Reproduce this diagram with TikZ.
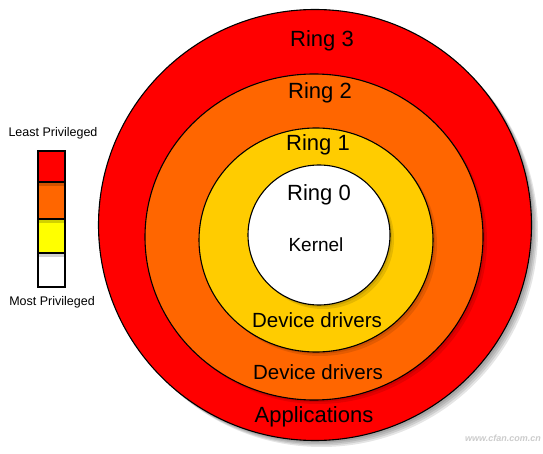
\documentclass[tikz,border=0pt]{standalone}
\usepackage{fontspec}
\setmainfont{Liberation Sans}
\definecolor{rred}{HTML}{FF0000}
\definecolor{rorange}{HTML}{FF6600}
\definecolor{rgold}{HTML}{FFCC00}
\definecolor{ryellow}{HTML}{FFFF00}
\tikzset{
  ringline/.style={draw=black, line width=1.1pt},
  ringshadow/.style={fill=black, opacity=0.10},
  big/.style={font=\fontsize{22}{25}\selectfont, inner sep=0pt},
  mid/.style={font=\fontsize{20.5}{23}\selectfont, inner sep=0pt},
  kern/.style={font=\fontsize{19}{22}\selectfont, inner sep=0pt},
  small/.style={font=\fontsize{12.5}{14}\selectfont, inner sep=0pt},
  bar/.style={draw=black, line width=1.2pt},
}
\begin{document}
\begin{tikzpicture}[x=1pt,y=-1pt]
\useasboundingbox (0,0) rectangle (543,454);
\fill[white] (0,0) rectangle (543,454);
% outer ring shadow
\foreach \d in {2,3.5,5,6.5}{
  \fill[ringshadow] (315+\d,225+\d) ellipse [x radius=216.5, y radius=215.5];
}
\fill[rred] (315,225) ellipse [x radius=216.5, y radius=215.5];
\draw[ringline] (315,225) ellipse [x radius=216.5, y radius=215.5];
% ring 2
\foreach \d in {2,4}{
  \fill[ringshadow] (314+\d,237+\d) ellipse [x radius=169, y radius=163];
}
\fill[rorange] (314,237) ellipse [x radius=169, y radius=163];
\draw[ringline] (314,237) ellipse [x radius=169, y radius=163];
% ring 1
\foreach \d in {2,4}{
  \fill[ringshadow] (316+\d,240+\d) ellipse [x radius=117, y radius=112];
}
\fill[rgold] (316,240) ellipse [x radius=117, y radius=112];
\draw[ringline] (316,240) ellipse [x radius=117, y radius=112];
% ring 0
\foreach \d in {2,4}{
  \fill[ringshadow] (319+\d,235+\d) ellipse [x radius=71, y radius=70];
}
\fill[white] (319,235) ellipse [x radius=71, y radius=70];
\draw[ringline] (319,235) ellipse [x radius=71, y radius=70];
% labels
\node[big] (r3) at (322,41) {Ring 3};
\node[big] (r2) at (320,93) {Ring 2};
\node[big] (r1) at (318,145) {Ring 1};
\node[big] (r0) at (319,195) {Ring 0};
\node[kern] (kernel) at (316,245) {Kernel};
\node[mid] (dd1) at (317,320) {Device drivers};
\node[mid] (dd2) at (318,372) {Device drivers};
\node[big] (apps) at (314,417) {Applications};
% legend
\node[small] (least) at (53,133) {Least Privileged};
\node[small] (most) at (52,302) {Most Privileged};
\fill[rred] (38,151) rectangle (65,182);
\fill[rorange] (38,182) rectangle (65,219);
\fill[ryellow] (38,219) rectangle (65,253);
\fill[white] (38,253) rectangle (65,287);
\foreach \y in {182,219,253}{
  \fill[black, opacity=0.18] (38,\y) rectangle (66,\y+4);
}
\draw[bar] (38,151) rectangle (65,287);
\draw[bar] (38,182) -- (65,182);
\draw[bar] (38,219) -- (65,219);
\draw[bar] (38,253) -- (65,253);
% watermark
\node[font=\fontsize{9}{11}\selectfont\bfseries\itshape, text=black!20, inner sep=0pt] (wm) at (503,438) {www.cfan.com.cn};
\end{tikzpicture}
\end{document}
